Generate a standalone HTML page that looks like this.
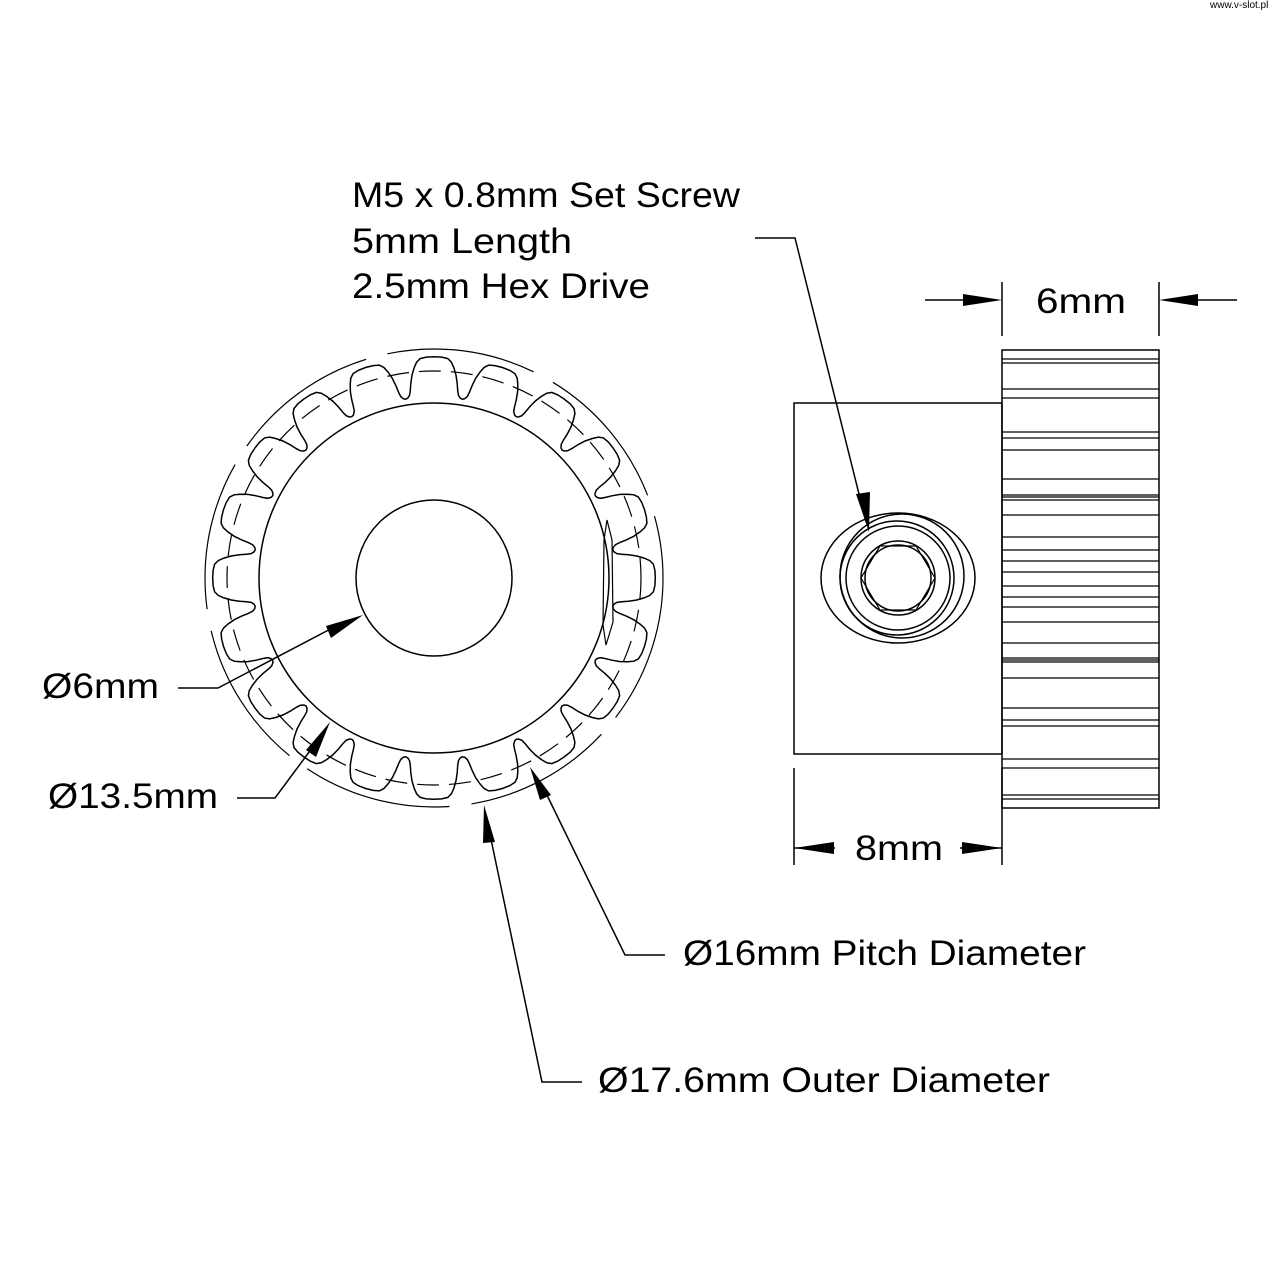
<!DOCTYPE html>
<html><head><meta charset="utf-8"><style>
html,body{margin:0;padding:0;background:#fff;}
svg{display:block;}
text{font-family:"Liberation Sans",sans-serif;fill:#000;}
</style></head><body>
<svg id="s" width="1280" height="1280" viewBox="0 0 1280 1280" xmlns="http://www.w3.org/2000/svg">
<rect width="1280" height="1280" fill="#fff"/>
<text x="1210" y="8" font-size="10">www.v-slot.pl</text>

<g fill="none" stroke="#000" stroke-width="1.5">
  <path id="gear" d=""/>
  <circle cx="434" cy="578" r="207" stroke-dasharray="22 10" stroke-width="1.2"/>
  <circle cx="434" cy="578" r="229" stroke-dasharray="150 22" stroke-width="1.2"/>
  <circle cx="434" cy="578" r="175"/>
  <circle cx="434" cy="578" r="78"/>
  <path d="M607 520 L612 540 L613 622 L606 645 L603 625 L604 540 Z" stroke-width="1.2"/>

  <rect x="794" y="403" width="208" height="351"/>
  <rect x="1002" y="350" width="157" height="458"/>
  <g id="hl" stroke-width="1.2"></g>

  <ellipse cx="898" cy="578" rx="77" ry="65"/>
  <circle cx="902" cy="576" r="62"/>
  <circle cx="897" cy="578" r="57"/>
  <circle cx="898" cy="578" r="52"/>
  <circle cx="898" cy="578" r="37"/>
  <circle cx="898" cy="578" r="33"/>
  <polygon points="935,578 916,546 880,546 861,578 880,610 916,610" stroke-width="1.2"/>

  <g stroke-width="1.5">
    <polyline points="755,238 795,238 866,522"/>
    <line x1="925" y1="300" x2="965" y2="300"/>
    <line x1="1198" y1="300" x2="1237" y2="300"/>
    <line x1="1002" y1="282" x2="1002" y2="336"/>
    <line x1="1159" y1="282" x2="1159" y2="336"/>
    <line x1="794" y1="768" x2="794" y2="865"/>
    <line x1="1002" y1="768" x2="1002" y2="865"/>
    <line x1="794" y1="848" x2="835" y2="848"/>
    <line x1="960" y1="848" x2="1002" y2="848"/>
    <polyline points="178,688 218,688 340,624"/>
    <polyline points="237,798 275,798 318,740"/>
    <polyline points="665,955 625,955 543,787"/>
    <polyline points="582,1082 542,1082 488,825"/>
  </g>
</g>
<g fill="#000" stroke="none">
  <polygon points="869,532 856,494 870,492"/>
  <polygon points="1002,300 963,294 963,306"/>
  <polygon points="1159,300 1198,294 1198,306"/>
  <polygon points="794,848 834,842 834,854"/>
  <polygon points="1002,848 962,842 962,854"/>
  <polygon points="363,615 331,638 326,626"/>
  <polygon points="330,722 316,757 306,750"/>
  <polygon points="530,767 540,800 551,795"/>
  <polygon points="484,805 483,843 495,842"/>
</g>

<g font-size="35">
  <text x="352" y="207" textLength="388" lengthAdjust="spacingAndGlyphs">M5 x 0.8mm Set Screw</text>
  <text x="352" y="253" textLength="220" lengthAdjust="spacingAndGlyphs">5mm Length</text>
  <text x="352" y="298" textLength="298" lengthAdjust="spacingAndGlyphs">2.5mm Hex Drive</text>
  <text x="1036" y="313" textLength="90" lengthAdjust="spacingAndGlyphs">6mm</text>
  <text x="855" y="860" textLength="88" lengthAdjust="spacingAndGlyphs">8mm</text>
  <text x="42" y="698" textLength="117" lengthAdjust="spacingAndGlyphs">Ø6mm</text>
  <text x="48" y="808" textLength="170" lengthAdjust="spacingAndGlyphs">Ø13.5mm</text>
  <text x="683" y="965" textLength="403" lengthAdjust="spacingAndGlyphs">Ø16mm Pitch Diameter</text>
  <text x="598" y="1092" textLength="452" lengthAdjust="spacingAndGlyphs">Ø17.6mm Outer Diameter</text>
</g>
</svg>
<script>
(function(){
  var cx=434, cy=578;
  var half=[[-9,181],[-8.3,181.8],[-7.6,184.5],[-7.2,189],[-6.8,196],[-6.2,204],[-5.4,211],[-4.6,216.5],[-3.6,219.8],[-2,221],[0,221.3]];
  var prof=half.slice();
  for(var i=half.length-2;i>0;i--) prof.push([-half[i][0],half[i][1]]);
  var d="";
  for(var t=0;t<20;t++){
    var a0=-90+t*18;
    for(var j=0;j<prof.length;j++){
      var a=(a0+prof[j][0])*Math.PI/180, r=prof[j][1];
      var x=cx+r*Math.cos(a), y=cy+r*Math.sin(a);
      d+=(d?"L":"M")+x.toFixed(1)+" "+y.toFixed(1);
    }
  }
  document.getElementById("gear").setAttribute("d",d+"Z");
  var ys=[359,363,389,398,432,438,450,479,495,497,500,515,537,550,561,572,586,597,607,622,643,658,660,662,678,708,720,726,759,768,795,799];
  var g=document.getElementById("hl"),s="";
  ys.forEach(function(y){s+='<line x1="1002" x2="1159" y1="'+y+'" y2="'+y+'"/>';});
  g.innerHTML=s;
})();
</script>
</body></html>
